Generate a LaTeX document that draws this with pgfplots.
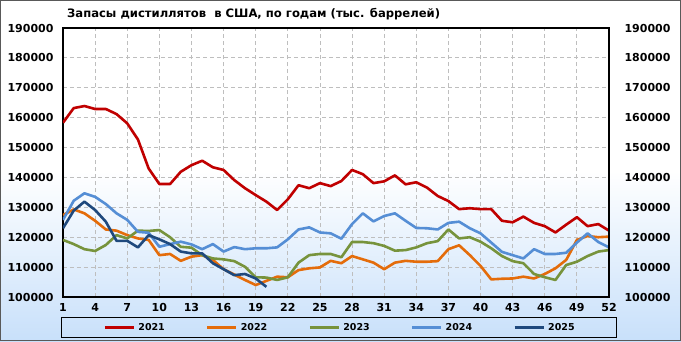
\documentclass[border=0pt]{standalone}
\usepackage{pgfplots}
\usepackage{pgfplotstable}
\pgfplotsset{compat=1.18}
\usepackage{fontspec}
\setmainfont{DejaVu Sans}
\definecolor{c21}{RGB}{192,0,0}
\definecolor{c22}{RGB}{228,108,10}
\definecolor{c23}{RGB}{119,147,60}
\definecolor{c24}{RGB}{85,142,213}
\definecolor{c25}{RGB}{31,73,125}
\definecolor{bgblue}{RGB}{200,224,250}
\definecolor{gridc}{RGB}{190,190,190}
\pgfplotstableread{
w y21 y22 y23 y24 y25
1 158300 127400 119100 125800 123000
2 163200 129300 117700 132200 128900
3 163900 128000 116000 134700 131900
4 162900 125500 115400 133500 129100
5 162900 122600 117400 131100 125200
6 161200 122200 120700 128000 118800
7 158100 120700 119600 125800 118800
8 152700 119600 122200 121800 116600
9 143000 119100 122100 121500 120700
10 137800 114000 122400 116800 119300
11 137800 114400 120000 117700 117700
12 141900 112100 116800 118500 115200
13 144100 113500 116500 117600 114600
14 145600 114000 114000 116000 114600
15 143400 112400 112900 117700 111300
16 142500 109300 112600 115200 109300
17 139100 107500 112000 116700 107300
18 136400 105700 110100 116000 107700
19 134100 104000 106600 116300 106200
20 131900 105400 106500 116300 103400
21 129100 106800 105700 116600 nan
22 132700 106600 106600 119300 nan
23 137400 109000 111500 122600 nan
24 136400 109600 114000 123300 nan
25 138100 109900 114400 121600 nan
26 137100 112100 114400 121300 nan
27 138800 111300 113300 119500 nan
28 142500 113700 118400 124400 nan
29 141100 112600 118400 128000 nan
30 138100 111500 118000 125300 nan
31 138700 109300 117100 127100 nan
32 140700 111500 115500 128000 nan
33 137700 112100 115700 125500 nan
34 138400 111800 116600 123100 nan
35 136600 111800 118000 123000 nan
36 133800 112000 118700 122600 nan
37 132100 116000 122600 124800 nan
38 129400 117300 119600 125200 nan
39 129700 114000 120000 123000 nan
40 129400 110400 118500 121300 nan
41 129400 105900 116300 118200 nan
42 125500 106100 113700 115100 nan
43 125000 106200 112000 114000 nan
44 126900 106800 111300 112900 nan
45 124800 106200 107700 116000 nan
46 123700 107700 106600 114400 nan
47 121600 109600 105700 114400 nan
48 124200 112400 110700 114800 nan
49 126700 119100 111800 118200 nan
50 123700 120400 113700 121300 nan
51 124400 120000 115200 118400 nan
52 122200 120200 115700 116600 nan
}\datatable
\begin{document}
\begin{tikzpicture}[x=1bp,y=1bp]
\fill[top color=white,bottom color=bgblue,middle color=white] (-63,-44) rectangle (618,297);
\begin{axis}[
  at={(0,0)}, anchor=south west,
  width=546bp, height=269bp, scale only axis,
  xmin=1, xmax=52, ymin=100000, ymax=190000,
  xtick={1,4,...,52},
  ytick={100000,110000,...,190000},
  scaled y ticks=false,
  /pgf/number format/assume math mode=true,
  yticklabel={\pgfmathprintnumber[fixed,1000 sep={},precision=0]{\tick}},
  ticklabel style={font=\fontsize{11bp}{13bp}\selectfont\bfseries},
  yticklabel style={xshift=-6bp},
  xticklabel style={yshift=-3bp},
  major tick length=0pt,
  grid=major,
  major grid style={gridc, line width=0.8bp, dash pattern=on 4bp off 3bp},
  axis line style={black, line width=1.2bp},
  unbounded coords=jump,
  every axis plot/.append style={line width=2.6bp, line join=round, no marks},
  legend columns=5,
  legend image code/.code={\draw[#1,line width=3bp] (0bp,0bp) -- (29bp,0bp);},
  legend style={at={(0.5,0)}, anchor=north, xshift=3bp, yshift=-20bp,
    draw=black, line width=1bp, fill=none,
    font=\fontsize{9.5bp}{11bp}\selectfont\bfseries,
    inner xsep=42bp, inner ysep=3.5bp,
    nodes={inner xsep=0bp, inner ysep=2bp},
    /tikz/every odd column/.append style={column sep=3bp},
    /tikz/every even column/.append style={column sep=41bp}},
]
\addplot[c21] table[x=w,y=y21] {\datatable}; \addlegendentry{2021}
\addplot[c22] table[x=w,y=y22] {\datatable}; \addlegendentry{2022}
\addplot[c23] table[x=w,y=y23] {\datatable}; \addlegendentry{2023}
\addplot[c24] table[x=w,y=y24] {\datatable}; \addlegendentry{2024}
\addplot[c25] table[x=w,y=y25] {\datatable}; \addlegendentry{2025}
\end{axis}
\begin{axis}[
  at={(0,0)}, anchor=south west,
  width=546bp, height=269bp, scale only axis,
  xmin=1, xmax=52, ymin=100000, ymax=190000,
  axis x line=none, axis y line*=right,
  ytick={100000,110000,...,190000},
  scaled y ticks=false,
  /pgf/number format/assume math mode=true,
  yticklabel={\pgfmathprintnumber[fixed,1000 sep={},precision=0]{\tick}},
  ticklabel style={font=\fontsize{11bp}{13bp}\selectfont\bfseries},
  yticklabel style={xshift=12bp},
  major tick length=0pt,
  axis line style={black, line width=1.2bp},
]
\end{axis}
\node[anchor=base west, font=\fontsize{11.6bp}{13bp}\selectfont\bfseries, inner sep=0pt] at (4,280) {Запасы дистиллятов\ \ в США, по годам (тыс. баррелей)};
\draw[black!65, line width=1bp] (-62.5,-43.5) rectangle (617.5,296.5);
\pgfresetboundingbox
\path[use as bounding box] (-63,-44) rectangle (618,297);
\end{tikzpicture}
\end{document}
